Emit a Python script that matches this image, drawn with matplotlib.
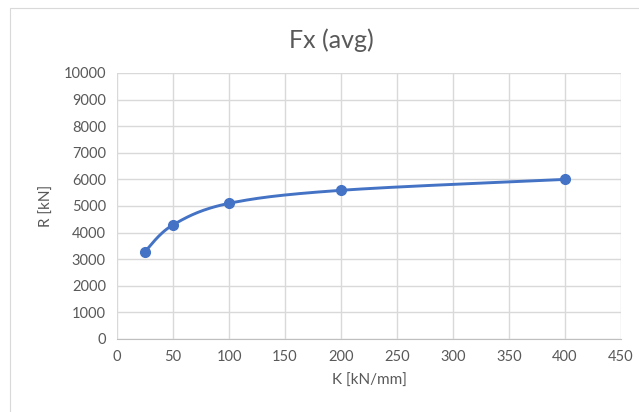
import numpy as np
import matplotlib
matplotlib.use("Agg")
import matplotlib.pyplot as plt
from matplotlib.patches import Rectangle

# Data
k_values = [25, 50, 100, 200, 400]          # K [kN/mm]
r_values = [3285, 4290, 5100, 5590, 6000]   # R [kN]
x_ticks = [0, 50, 100, 150, 200, 250, 300, 350, 400, 450]
y_ticks = [0, 1000, 2000, 3000, 4000, 5000, 6000, 7000, 8000, 9000, 10000]

LINE = "#4472C4"
GRID = "#D9D9D9"
TEXT = "#595959"

plt.rcParams["font.family"] = ["Lato", "DejaVu Sans"]


def smooth_curve(xs, ys, n=40):
    """Cardinal-style Bezier smoothing through the points (spreadsheet 'smoothed line')."""
    xs = np.asarray(xs, float)
    ys = np.asarray(ys, float)
    px = np.concatenate([[xs[0]], xs, [xs[-1]]])
    py = np.concatenate([[ys[0]], ys, [ys[-1]]])
    out_x, out_y = [], []
    t = np.linspace(0, 1, n)
    for i in range(1, len(px) - 2):
        p0 = np.array([px[i], py[i]])
        p3 = np.array([px[i + 1], py[i + 1]])
        c1 = p0 + (np.array([px[i + 1], py[i + 1]]) - np.array([px[i - 1], py[i - 1]])) / 6
        c2 = p3 - (np.array([px[i + 2], py[i + 2]]) - np.array([px[i], py[i]])) / 6
        b = ((1 - t) ** 3)[:, None] * p0 + (3 * (1 - t) ** 2 * t)[:, None] * c1 \
            + (3 * (1 - t) * t ** 2)[:, None] * c2 + (t ** 3)[:, None] * p3
        out_x.extend(b[:, 0])
        out_y.extend(b[:, 1])
    return np.array(out_x), np.array(out_y)


fig = plt.figure(figsize=(6.39, 4.12), dpi=100)
fig.patches.append(Rectangle((10 / 639, -0.01), 1.0, 1 - 8 / 412 + 0.01,
                             transform=fig.transFigure, fill=False,
                             edgecolor="#D9D9D9", linewidth=0.8))

ax = fig.add_axes([117 / 639, 1 - 339 / 412, (621 - 117) / 639, (339 - 73) / 412])

sx, sy = smooth_curve(k_values, r_values)
ax.plot(sx, sy, color=LINE, linewidth=2.1, solid_capstyle="round", zorder=3)
ax.plot(k_values, r_values, "o", color=LINE, markersize=7, zorder=4)

ax.set_xlim(0, 450)
ax.set_ylim(0, 10000)
ax.set_xticks(x_ticks)
ax.set_yticks(y_ticks)
ax.grid(True, color=GRID, linewidth=1.0)
ax.set_axisbelow(True)
for side in ("top", "right", "left"):
    ax.spines[side].set_visible(False)
ax.spines["bottom"].set_color("#BFBFBF")
ax.tick_params(length=0, labelsize=10.5, colors=TEXT, pad=8)

ax.set_xlabel("K [kN/mm]", fontsize=11, color=TEXT, labelpad=7)
ax.set_ylabel("R [kN]", fontsize=11, color=TEXT, labelpad=7)
fig.text(331 / 639, 1 - 40 / 412, "Fx (avg)", ha="center", va="center",
         fontsize=18, color=TEXT)

fig.savefig("out.png", dpi=100, facecolor="white")
